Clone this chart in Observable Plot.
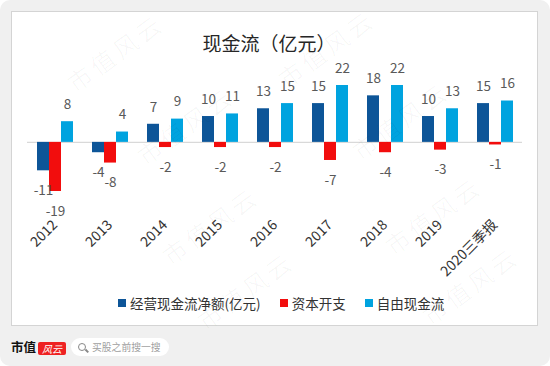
<!DOCTYPE html>
<html><head><meta charset="utf-8">
<script src="https://cdn.jsdelivr.net/npm/d3@7"></script>
<script src="https://cdn.jsdelivr.net/npm/@observablehq/plot@0.6"></script>
<style>
body{margin:0;background:#fff;font-family:"Noto Sans CJK SC","Noto Sans",sans-serif;}
#wrap{position:relative;width:550px;height:366px;overflow:hidden;background:#fff;}
#bg{position:absolute;left:0;top:0;width:550px;height:366px;background:#f0f0f0;border-radius:10px;}
#panel{position:absolute;left:11px;top:11px;width:525px;height:313px;background:#fff;border:1px solid #d4d4d4;}
#title{position:absolute;left:0;width:538px;top:30px;text-align:center;font-size:19px;line-height:26px;color:#262626;}
#chart{position:absolute;left:0;top:60px;}
#legend{position:absolute;left:118px;top:294px;height:18px;display:flex;align-items:center;font-size:13.5px;color:#333;white-space:nowrap;}
#legend .sw{width:8px;height:8px;margin-right:4px;display:inline-block;}
#legend .it{display:flex;align-items:center;margin-right:19px;}
.logo{position:absolute;left:11px;top:338px;font-size:12.5px;font-weight:bold;color:#111;line-height:18px;}
.badge{position:absolute;left:38px;top:342px;width:28px;height:13px;background:#ee2222;border-radius:2px;color:#fff;font-size:10px;line-height:13px;text-align:center;font-style:italic;}
.search{position:absolute;left:71px;top:338px;width:98px;height:18px;background:#fff;border-radius:9px;}
.glass{position:absolute;left:78px;top:343px;width:6px;height:6px;border:1.5px solid #888;border-radius:50%;}
.handle{position:absolute;left:84.5px;top:350px;width:4px;height:1.5px;background:#888;transform:rotate(45deg);}
.stext{position:absolute;left:92px;top:338px;font-size:9.8px;line-height:18px;color:#a0a0a0;}
.wm{position:absolute;font-size:24px;color:rgba(0,0,0,0.03);transform:translate(-50%,-50%) rotate(-36deg);white-space:nowrap;letter-spacing:4px;pointer-events:none;}
</style></head>
<body>
<div id="wrap">
  <div id="bg"></div>
  <div id="panel"></div>
  <div id="title">现金流（亿元）</div>
  <div id="chart"></div>
  <div id="legend"></div>
  <div class="logo">市值</div>
  <div class="badge">风云</div>
  <div class="search"></div>
  <div class="glass"></div>
  <div class="handle"></div>
  <div class="stext">买股之前搜一搜</div>
  <div id="wms"></div>
</div>
<script>
const years = ["2012","2013","2014","2015","2016","2017","2018","2019","2020三季报"];
const operating = [-11,-4,7,10,13,15,18,10,15];
const capex = [-19,-8,-2,-2,-2,-7,-4,-3,-1];
const fcf = [8,4,9,11,15,22,22,13,16];
const seriesNames = ["经营现金流净额(亿元)","资本开支","自由现金流"];
const seriesColors = ["#0d5598","#f20d0d","#00a3df"];

const data = years.flatMap((y, i) => [
  {year: y, series: seriesNames[0], value: operating[i]},
  {year: y, series: seriesNames[1], value: capex[i]},
  {year: y, series: seriesNames[2], value: fcf[i]}
]);

const chart = Plot.plot({
  width: 550,
  height: 226,
  marginTop: 25,
  marginBottom: 95,
  marginLeft: 27,
  marginRight: 28,
  style: {fontSize: "14px", fontFamily: "'Noto Sans CJK SC', sans-serif", color: "#333", background: "transparent", overflow: "visible"},
  fx: {domain: years, padding: 0, label: null, tickRotate: -45, tickSize: 0, tickPadding: 31},
  x: {domain: seriesNames, axis: null, paddingInner: 0, paddingOuter: 0.77},
  y: {domain: [-19, 22], axis: null},
  color: {domain: seriesNames, range: seriesColors},
  marks: [
    Plot.ruleY([0], {stroke: "#d9d9d9", strokeWidth: 1.2}),
    Plot.barY(data, {fx: "year", x: "series", y: "value", fill: "series"}),
    Plot.text(data.filter(d => d.value >= 0), {fx: "year", x: "series", y: "value", text: d => String(d.value), dy: -17, fontSize: 13.5, fill: "#595959"}),
    Plot.text(data.filter(d => d.value < 0), {fx: "year", x: "series", y: "value", text: d => String(d.value), dy: 20, fontSize: 13.5, fill: "#595959"})
  ]
});
document.getElementById("chart").appendChild(chart);

const legend = document.getElementById("legend");
seriesNames.forEach((name, i) => {
  const it = document.createElement("div");
  it.className = "it";
  const sw = document.createElement("span");
  sw.className = "sw";
  sw.style.background = seriesColors[i];
  it.appendChild(sw);
  it.appendChild(document.createTextNode(name));
  legend.appendChild(it);
});

const wmCenters = [[115,52],[326,48],[185,125],[400,120],[210,225],[433,215],[245,290],[470,285]];
const wms = document.getElementById("wms");
wmCenters.forEach(([x, y]) => {
  const s = document.createElement("div");
  s.className = "wm";
  s.style.left = x + "px";
  s.style.top = y + "px";
  s.textContent = "市值风云";
  wms.appendChild(s);
});
</script>
</body></html>
